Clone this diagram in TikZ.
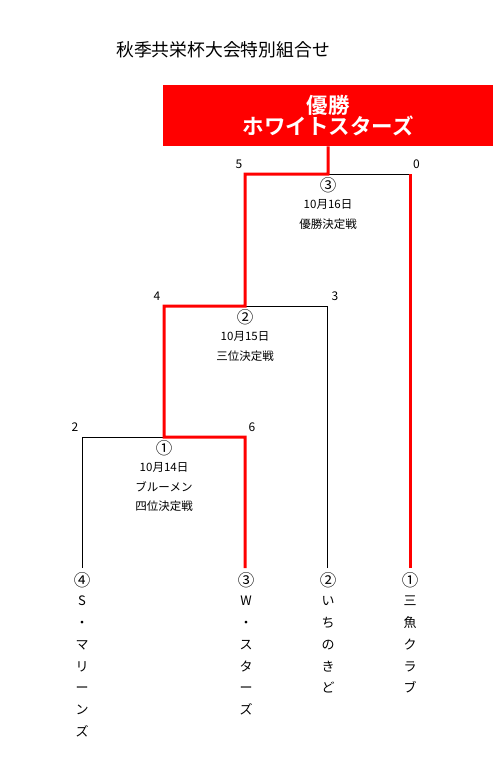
\documentclass[tikz,border=0pt]{standalone}
\usepackage{fontspec}
\setmainfont{Noto Sans CJK JP}
\newfontfamily\jpbold{Noto Sans CJK JP Bold}
\newcommand{\circd}[1]{{\fontsize{16.5}{12}\selectfont\raisebox{-2.5pt}[10.5pt][0pt]{#1}}}
\definecolor{winred}{RGB}{255,0,0}
\tikzset{
  x=1pt, y=-1pt,
  win/.style={draw=winred, line width=3pt, miter limit=10},
  lose/.style={draw=black, line width=0.9pt},
  score/.style={font=\fontsize{12}{12}\selectfont, inner sep=0pt},
  info/.style={font=\fontsize{11.5}{19.5}\selectfont, align=center, inner sep=0pt, anchor=north},
  team/.style={font=\fontsize{13}{21.7}\selectfont, align=center, inner sep=0pt, anchor=north},
}
\begin{document}
\begin{tikzpicture}
\useasboundingbox (0,0) rectangle (493,779);
\fill[white] (0,0) rectangle (493,779);
% title
\node[font=\fontsize{17.8}{17.8}\selectfont, inner sep=0pt] (title) at (223,50) {秋季共栄杯大会特別組合せ};
% champion box
\node[fill=winred, minimum width=330pt, minimum height=61pt, inner sep=0pt, anchor=north west,
      text=white, font=\jpbold\fontsize{21.5}{21}\selectfont, align=center] (champ) at (163,85)
      {優勝\\ホワイトスターズ};
% bracket points
\coordinate (m3) at (328,174);
\coordinate (m3l) at (245,174);
\coordinate (m3r) at (410,174);
\coordinate (m2) at (245,306);
\coordinate (m2l) at (164,306);
\coordinate (m2r) at (327,306);
\coordinate (m1) at (164,437);
\coordinate (m1l) at (82,437);
\coordinate (m1r) at (245,437);
\coordinate (b4) at (82,568);
\coordinate (b3) at (245,568);
\coordinate (b2) at (327,568);
\coordinate (b1) at (410,568);
% losing lines
\draw[lose] (b4) -- (m1l) -- (m1);
\draw[lose] (b2) -- (m2r) -- (m2);
\draw[lose] (m3) -- (m3r);
% winning lines
\draw[win] (b3) -- (m1r) -- (m1) -- (m2l) -- (m2) -- (m3l) -- (m3) -- (champ.south);
\draw[win] (b1) -- (m3r);
% scores
\node[score] (s5) at (239,164) {5};
\node[score] (s0) at (416.5,164) {0};
\node[score] (s4) at (157,296) {4};
\node[score] (s3) at (335,296) {3};
\node[score] (s2) at (75,427) {2};
\node[score] (s6) at (252,427) {6};
% match info
\node[info] (i3) at (328,178.5) {\circd{③}\\10月16日\\優勝決定戦};
\node[info] (i2) at (245,310.5) {\circd{②}\\10月15日\\三位決定戦};
\node[info] (i1) at (164,441.5) {\circd{①}\\10月14日\\ブルーメン\\四位決定戦};
% teams
\node[team] (t4) at (82,573.5) {\circd{④}\\S\\・\\マ\\リ\\ー\\ン\\ズ};
\node[team] (t3) at (246,573.5) {\circd{③}\\W\\・\\ス\\タ\\ー\\ズ};
\node[team] (t2) at (328,573.5) {\circd{②}\\い\\ち\\の\\き\\ど};
\node[team] (t1) at (410,573.5) {\circd{①}\\三\\魚\\ク\\ラ\\ブ};
\end{tikzpicture}
\end{document}
